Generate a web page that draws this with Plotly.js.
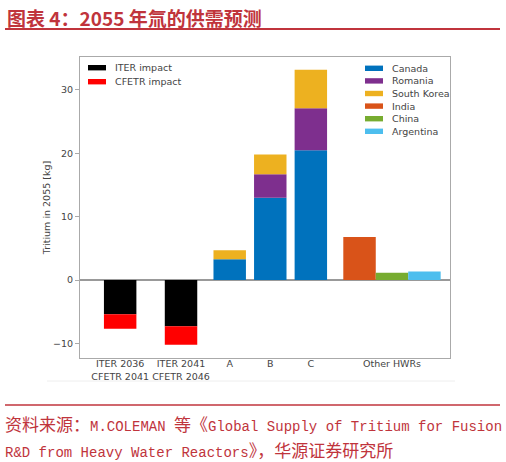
<!DOCTYPE html>
<html>
<head>
<meta charset="utf-8">
<script src="https://cdn.plot.ly/plotly-3.0.1.min.js"></script>
<style>body{margin:0;background:#fff}</style>
</head>
<body>
<div id="chart" style="width:506px;height:462px"></div>
<script>
// values (kg of tritium in 2055)
var iterX = ['ITER 2036<br>CFETR 2041', 'ITER 2041<br>CFETR 2046']
var iterImpact = [-5.4, -7.3]
var cfetrImpact = [-2.3, -2.9]

var scenarios = ['A', 'B', 'C']
var canada = [3.3, 13.0, 20.5]
var romania = [0, 3.7, 6.6]
var southKorea = [1.4, 3.1, 6.1]

var otherLabel = 'Other HWRs'
var india = [6.8]
var china = [1.15]
var argentina = [1.35]

// where each group sits on the x axis
var posIter = [-3.7, -2.2]
var posScen = [-1, 0, 1]
var posIndia = [2.2], posChina = [3.0], posArg = [3.8]

var w = 0.8
var red = '#C0343C'
var grey = '#444'

var data = []
function bar(name, x, y, color, leg) {
	data.push({type: 'bar', name: name, x: x, y: y, width: w,
		marker: {color: color, line: {width: 0}}, legendgroup: leg})
}

bar('ITER impact', posIter, iterImpact, '#000000', 1)
bar('CFETR impact', posIter, cfetrImpact, '#FF0000', 1)
bar('Canada', posScen, canada, '#0072BD', 2)
bar('Romania', posScen, romania, '#7E2F8E', 2)
bar('South Korea', posScen, southKorea, '#EDB120', 2)
bar('India', posIndia, india, '#D95319', 2)
bar('China', posChina, china, '#77AC30', 2)
bar('Argentina', posArg, argentina, '#4DBEEE', 2)

// plot area is 80..450 px across, 57..358 px down
function px(v) { return (v - 80) / 370 }
function py(v) { return (358 - v) / 301 }

var shapes = [
	{type: 'line', xref: 'paper', yref: 'paper', x0: px(5), x1: px(500), y0: py(29), y1: py(29),
		line: {color: red, width: 2}},
	{type: 'line', xref: 'paper', yref: 'paper', x0: px(5), x1: px(500), y0: py(405), y1: py(405),
		line: {color: red, width: 1.5}},
	{type: 'line', xref: 'paper', yref: 'paper', x0: px(47), x1: px(455), y0: py(381), y1: py(381),
		line: {color: '#eee', width: 1}}
]

var cjk = function(s) { return '<span style="font-family:Noto Sans CJK SC;font-size:17px">' + s + '</span>' }
var srcFont = {family: 'Liberation Mono', size: 14, color: red}

var annotations = [
	{xref: 'paper', yref: 'paper', x: px(5), y: py(17), xanchor: 'left', yanchor: 'middle', showarrow: false,
		text: '<b>图表 4：2055 年氚的供需预测</b>',
		font: {family: 'Noto Sans CJK SC', size: 19, color: red}},
	{xref: 'paper', yref: 'paper', x: px(3), y: py(424), xanchor: 'left', yanchor: 'middle', showarrow: false,
		text: cjk('资料来源：') + 'M.COLEMAN ' + cjk('等《') + 'Global Supply of Tritium for Fusion',
		font: srcFont},
	{xref: 'paper', yref: 'paper', x: px(3), y: py(449), xanchor: 'left', yanchor: 'middle', showarrow: false,
		text: 'R&D from Heavy Water Reactors' + cjk('》，华源证券研究所'),
		font: srcFont}
]

// legends drawn as swatch + label, two separate boxes
function legendBox(traces, x0, y0, step) {
	traces.forEach(function(t, i) {
		var yc = y0 + i * step
		shapes.push({type: 'rect', xref: 'paper', yref: 'paper', x0: px(x0), x1: px(x0 + 18),
			y0: py(yc - 2.7), y1: py(yc + 2.7), fillcolor: t.marker.color, line: {width: 0}})
		annotations.push({xref: 'paper', yref: 'paper', x: px(x0 + 25), y: py(yc), xanchor: 'left', yanchor: 'middle',
			showarrow: false, text: t.name, font: {family: 'DejaVu Sans', size: 9.5, color: grey}})
	})
}
legendBox(data.filter(function(t) { return t.legendgroup === 1 }), 88, 67.7, 14)
legendBox(data.filter(function(t) { return t.legendgroup === 2 }), 365, 68.3, 12.6)

var tickFont = {family: 'DejaVu Sans', size: 9.5, color: grey}

var layout = {
	width: 506, height: 462,
	margin: {l: 80, r: 56, t: 57, b: 104},
	paper_bgcolor: '#fff', plot_bgcolor: '#fff',
	barmode: 'relative',
	showlegend: false,
	font: {family: 'DejaVu Sans'},
	xaxis: {
		range: [-4.69, 4.43], showgrid: false, zeroline: false,
		tickvals: posIter.concat(posScen, posChina),
		ticktext: iterX.concat(scenarios, [otherLabel]),
		tickfont: tickFont, ticks: '', ticklabelstandoff: -3,
		showline: true, mirror: true, linecolor: '#aaa', linewidth: 1
	},
	yaxis: {
		range: [-12.3, 35.2], showgrid: false,
		tickvals: [-10, 0, 10, 20, 30], ticktext: ['\u221210', '0', '10', '20', '30'],
		tickfont: tickFont, ticks: 'outside', ticklen: 4, tickcolor: '#aaa',
		zeroline: true, zerolinecolor: '#999', zerolinewidth: 2,
		showline: true, mirror: true, linecolor: '#aaa', linewidth: 1,
		title: {text: 'Tritium in 2055 [kg]', font: {family: 'DejaVu Sans', size: 9.5, color: grey}, standoff: 0}
	},
	shapes: shapes,
	annotations: annotations
}

Plotly.newPlot('chart', data, layout, {displayModeBar: false})
</script>
</body>
</html>
